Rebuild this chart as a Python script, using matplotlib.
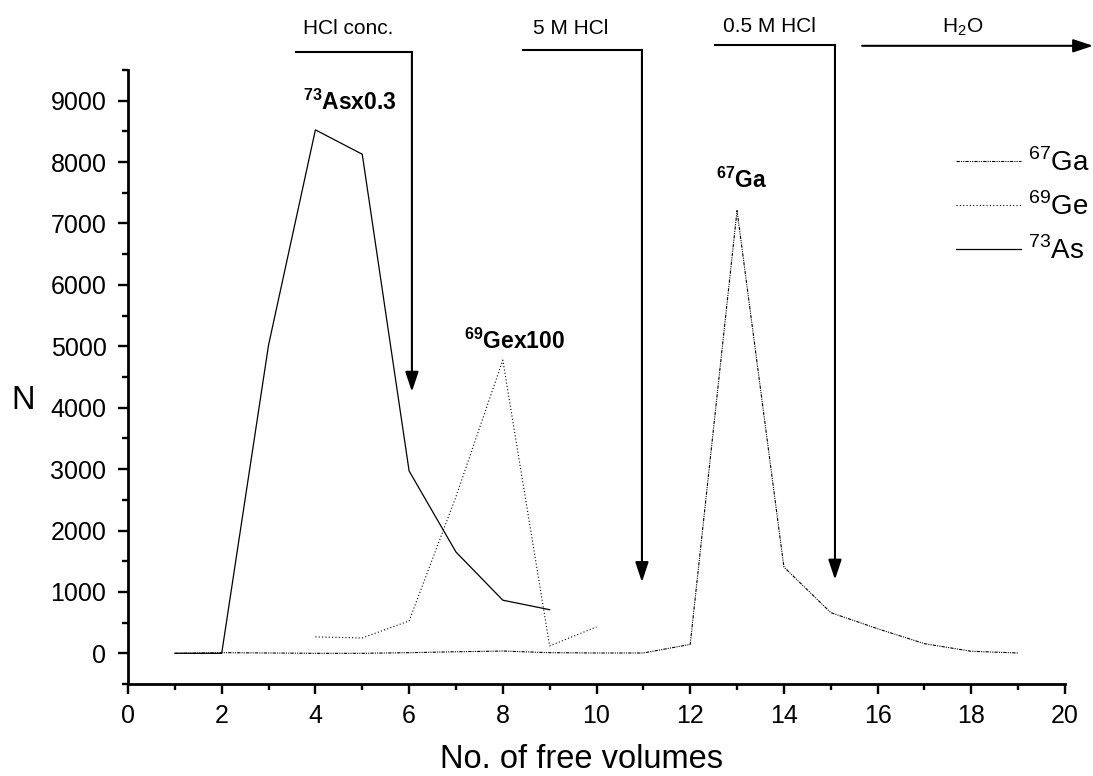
import matplotlib
matplotlib.use("Agg")
import matplotlib.pyplot as plt
import numpy as np

plt.rcParams['font.family'] = ['Liberation Sans', 'DejaVu Sans']
plt.rcParams['mathtext.fontset'] = 'custom'
plt.rcParams['mathtext.rm'] = 'Liberation Sans'
plt.rcParams['mathtext.bf'] = 'Liberation Sans:bold'

# frakcje (objetosci)
x_ga = np.arange(1, 20)
n_ga = [0, 10, 5, 0, 0, 10, 25, 37, 10, 5, 5, 145, 7210, 1405, 663, 400, 157, 33, 5]
x_ge = np.arange(4, 11)
n_ge = [267, 250, 527, 2550, 4775, 120, 430]
x_as = np.arange(1, 10)
n_as = [0, 0, 5020, 8525, 8128, 2970, 1650, 865, 710]

# eluenty
eluents = ["HCl conc.", "5 M HCl", "0.5 M HCl"]
el_start = [3.59, 8.43, 12.53]
el_arrow = [6.06, 10.97, 15.09]
el_top = [9796, 9829, 9910]
el_tip = [4260, 1160, 1200]
el_text_x = [3.735, 8.64, 12.70]
el_text_y = [10085, 10090, 10117]

fig = plt.figure(figsize=(10.93, 7.76), dpi=100)
ax = fig.add_axes([128 / 1093, 92 / 776, 937 / 1093, 614 / 776])

ax.plot(x_ga, n_ga, color='black', lw=0.8, ls=(0, (3, 1, 1, 1, 1, 1)), label=r'$^{67}$Ga')
ax.plot(x_ge, n_ge, color='black', lw=0.8, ls=(0, (1, 2)), label=r'$^{69}$Ge')
ax.plot(x_as, n_as, color='black', lw=0.9, ls='-', label=r'$^{73}$As')

ax.set_xlim(0, 20)
ax.set_ylim(-500, 9500)
ax.set_xticks(np.arange(0, 21, 2))
ax.set_xticks(np.arange(0, 21, 1), minor=True)
ax.set_yticks(np.arange(0, 9001, 1000))
ax.set_yticks(np.arange(-500, 9501, 500), minor=True)
ax.tick_params(which='major', length=7.5, width=1.7, labelsize=18, direction='out')
ax.tick_params(which='minor', length=4.5, width=1.7, direction='out')
ax.tick_params(axis='x', which='major', pad=7)
ax.tick_params(axis='y', which='major', pad=8)
for s in ['top', 'right']:
    ax.spines[s].set_visible(False)
for s in ['left', 'bottom']:
    ax.spines[s].set_linewidth(2)

ax.set_xlabel("No. of free volumes", fontsize=23.5, va='baseline')
ax.xaxis.set_label_coords(0.4835, -0.137)
ax.set_ylabel("N", fontsize=23.5, rotation=0, va='center', ha='center')
ax.yaxis.set_label_coords(-0.1124, 0.4625)

# strzalki eluentow
astyle = '-|>,head_length=0.6,head_width=0.2'
for t, xs, xa, yt, ytip, tx, ty in zip(eluents, el_start, el_arrow, el_top, el_tip,
                                        el_text_x, el_text_y):
    ax.plot([xs, xa], [yt, yt], color='black', lw=1.5, clip_on=False)
    ax.annotate("", xy=(xa, ytip), xytext=(xa, yt), annotation_clip=False,
                arrowprops=dict(arrowstyle=astyle, color='black', lw=1.5,
                                mutation_scale=20, shrinkA=0, shrinkB=0))
    ax.text(tx, ty, t, fontsize=15, ha='left', va='baseline')

ax.annotate("", xy=(20.6, 9894), xytext=(15.67, 9894), annotation_clip=False,
            arrowprops=dict(arrowstyle=astyle, color='black', lw=1.5,
                            mutation_scale=20, shrinkA=0, shrinkB=0))
ax.text(17.37, 10120, r"H$_2$O", fontsize=15, ha='left', va='baseline')

# opisy pikow
ax.text(3.735, 8850, r"$^{\mathbf{73}}$Asx0.3", fontsize=16.5, fontweight='bold')
ax.text(7.17, 4955, r"$^{\mathbf{69}}$Gex100", fontsize=16.5, fontweight='bold')
ax.text(12.55, 7580, r"$^{\mathbf{67}}$Ga", fontsize=16.5, fontweight='bold')

ax.legend(loc='upper left', bbox_to_anchor=(0.8837, 0.872), frameon=False,
          fontsize=20, handlelength=2.34, handletextpad=0.25, labelspacing=0.55,
          borderpad=0, borderaxespad=0)

fig.savefig("out.png", dpi=100)
